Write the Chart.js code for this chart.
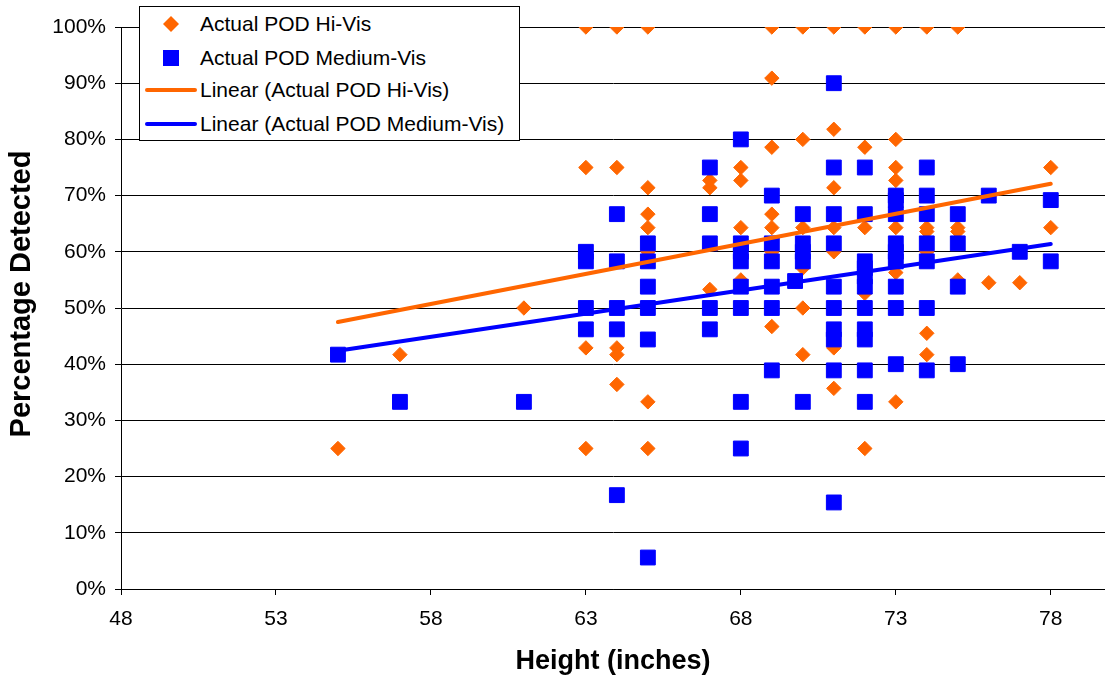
<!DOCTYPE html>
<html>
<head>
<meta charset="utf-8">
<title>POD vs Height</title>
<script src="https://cdn.jsdelivr.net/npm/chart.js@4.4.0/dist/chart.umd.min.js"></script>
<style>
  html, body { margin: 0; padding: 0; background: #fff; }
  #wrap { position: relative; width: 1105px; height: 681px; }
  #legend {
    position: absolute; left: 139px; top: 6px; width: 379px; height: 133px;
    border: 1px solid #000; background: #fff;
    font-family: Arial, "Liberation Sans", sans-serif; font-size: 21px; color: #000;
  }
  #legend .item { position: absolute; left: 0; width: 100%; height: 30px; line-height: 30px; white-space: nowrap; }
  #legend svg { position: absolute; left: 0; top: 0; }
  #legend .label { position: absolute; left: 60px; top: 0; }
</style>
</head>
<body>
<div id="wrap">
  <canvas id="chart" width="1105" height="681"></canvas>
  <div id="legend"></div>
</div>
<script>
// x = height (inches), y = percentage detected
const hiVisHeights = [55, 57, 61, 63, 63, 63, 63, 64, 64, 64, 64, 64, 65, 65, 65, 65, 65, 65, 65,
  67, 67, 67, 68, 68, 68, 68, 69, 69, 69, 69, 69, 69, 69, 70, 70, 70, 70, 70, 70,
  71, 71, 71, 71, 71, 71, 71, 72, 72, 72, 72, 72, 73, 73, 73, 73, 73, 73, 73,
  74, 74, 74, 74, 74, 74, 75, 75, 75, 75, 76, 77, 78, 78];
const hiVisPercents = [25, 41.7, 50, 100, 75, 42.9, 25, 100, 75, 42.9, 41.7, 36.4, 100, 71.4, 66.7, 64.3, 60, 33.3, 25,
  72.7, 71.4, 53.3, 75, 72.7, 64.3, 55, 100, 90.9, 78.6, 66.7, 64.3, 60, 46.7, 100, 80, 64.3, 57.1, 50, 41.7,
  100, 81.8, 71.4, 64.3, 60, 42.9, 35.7, 100, 78.6, 64.3, 52.6, 25, 100, 80, 75, 72.7, 64.3, 56.3, 33.3,
  100, 64.3, 63.6, 60, 45.5, 41.7, 100, 64.3, 63.6, 55, 54.5, 54.5, 75, 64.3];

const medVisHeights = [55, 57, 61, 63, 63, 63, 63, 64, 64, 64, 64, 64, 65, 65, 65, 65, 65, 65,
  67, 67, 67, 67, 67, 68, 68, 68, 68, 68, 68, 68, 68, 69, 69, 69, 69, 69, 69, 69.75,
  70, 70, 70, 70, 70, 71, 71, 71, 71, 71, 71, 71, 71, 71, 71,
  72, 72, 72, 72, 72, 72, 72, 72, 72, 72, 72, 73, 73, 73, 73, 73, 73, 73, 73, 73,
  74, 74, 74, 74, 74, 74, 74, 75, 75, 75, 75, 76, 77, 78, 78];
const medVisPercents = [41.7, 33.3, 33.3, 60, 58.3, 50, 46.2, 66.7, 58.3, 50, 46.2, 16.7, 61.5, 58.3, 53.8, 50, 44.4, 5.6,
  75, 66.7, 61.5, 50, 46.2, 80, 61.5, 60, 58.3, 53.8, 50, 33.3, 25, 70, 61.5, 58.3, 53.8, 50, 38.9, 54.8,
  66.7, 61.5, 60, 58.3, 33.3, 90, 75, 66.7, 61.5, 53.8, 50, 46.2, 44.4, 38.9, 15.4,
  75, 66.7, 58.3, 57.1, 55.6, 53.8, 50, 46.2, 44.4, 38.9, 33.3, 70, 69.2, 66.7, 61.5, 60, 58.3, 53.8, 50, 40,
  75, 70, 66.7, 61.5, 58.3, 50, 38.9, 66.7, 61.5, 53.8, 40, 70, 60, 69.2, 58.3];

// linear trend end points as drawn in the original
const trendHeights = [55, 78];
const hiTrendPercents = [47.5, 72.1];
const medTrendPercents = [42.4, 61.4];

const heightTicks = [48, 53, 58, 63, 68, 73, 78];

const ORANGE = "#FF6600";
const BLUE = "#0000FF";
const FONT = 'Arial, "Liberation Sans", sans-serif';

const toPoints = (xs, ys) => xs.map((x, i) => ({ x: x, y: ys[i] }));

Chart.defaults.font.family = FONT;
Chart.defaults.color = "#000";

// y title sits a little above the plot centre in the original, so draw it by hand
const yTitle = {
  id: "yTitle",
  afterDraw(chart) {
    const c = chart.ctx;
    const area = chart.chartArea;
    c.save();
    c.translate(22, (area.top + area.bottom) / 2 - 14);
    c.rotate(-Math.PI / 2);
    c.font = "bold 29px " + FONT;
    c.fillStyle = "#000";
    c.textAlign = "center";
    c.textBaseline = "middle";
    c.fillText("Percentage Detected", 0, 0);
    c.restore();
  },
};

const ctx = document.getElementById("chart").getContext("2d");

new Chart(ctx, {
  type: "scatter",
  data: {
    datasets: [
      {
        label: "Actual POD Hi-Vis",
        data: toPoints(hiVisHeights, hiVisPercents),
        pointStyle: "rectRot",
        pointRadius: 7.2,
        backgroundColor: ORANGE,
        borderColor: ORANGE,
        borderWidth: 1,
        order: 4,
      },
      {
        label: "Actual POD Medium-Vis",
        data: toPoints(medVisHeights, medVisPercents),
        pointStyle: "rect",
        pointRadius: 10.5,
        backgroundColor: BLUE,
        borderColor: BLUE,
        borderWidth: 1,
        order: 3,
      },
      {
        label: "Linear (Actual POD Hi-Vis)",
        data: toPoints(trendHeights, hiTrendPercents),
        showLine: true,
        pointRadius: 0,
        borderColor: ORANGE,
        borderWidth: 4,
        borderCapStyle: "round",
        order: 2,
      },
      {
        label: "Linear (Actual POD Medium-Vis)",
        data: toPoints(trendHeights, medTrendPercents),
        showLine: true,
        pointRadius: 0,
        borderColor: BLUE,
        borderWidth: 4,
        borderCapStyle: "round",
        order: 1,
      },
    ],
  },
  options: {
    responsive: false,
    animation: false,
    events: [],
    layout: { autoPadding: false, padding: { top: 27, right: 0, bottom: 0, left: 0 } },
    plugins: {
      legend: { display: false },
      tooltip: { enabled: false },
    },
    scales: {
      x: {
        type: "linear",
        min: 48,
        max: 79.75,
        afterBuildTicks: (scale) => {
          scale.ticks = heightTicks.map((v) => ({ value: v }));
        },
        afterFit: (scale) => {
          scale.height = 92;
          scale.paddingLeft = 0;
          scale.paddingRight = 0;
        },
        ticks: { font: { size: 21 }, color: "#000", padding: 12, maxRotation: 0, autoSkip: false },
        grid: { drawOnChartArea: false, color: "#000", tickLength: 6 },
        border: { color: "#000", width: 1 },
        title: {
          display: true,
          text: "Height (inches)",
          color: "#000",
          font: { size: 27, weight: "bold" },
          padding: { top: 0, bottom: 3 },
        },
      },
      y: {
        min: 0,
        max: 100,
        afterFit: (scale) => {
          scale.width = 121;
        },
        ticks: {
          stepSize: 10,
          font: { size: 21 },
          color: "#000",
          padding: 9,
          callback: (v) => v + "%",
        },
        grid: { color: "#000", lineWidth: 1, tickLength: 6 },
        border: { color: "#000", width: 1 },
        title: { display: false },
      },
    },
  },
  plugins: [yTitle],
});

// legend box drawn over the plot, like the original
const legendItems = [
  { text: "Actual POD Hi-Vis", kind: "diamond", color: ORANGE, top: 2 },
  { text: "Actual POD Medium-Vis", kind: "square", color: BLUE, top: 36 },
  { text: "Linear (Actual POD Hi-Vis)", kind: "line", color: ORANGE, top: 68 },
  { text: "Linear (Actual POD Medium-Vis)", kind: "line", color: BLUE, top: 102 },
];

const legendEl = document.getElementById("legend");
legendItems.forEach((item) => {
  const row = document.createElement("div");
  row.className = "item";
  row.style.top = item.top + "px";
  let mark = "";
  if (item.kind === "diamond") {
    mark = '<polygon points="31,7 39,15 31,23 23,15" fill="' + item.color + '"/>';
  } else if (item.kind === "square") {
    mark = '<rect x="23" y="7" width="16" height="16" fill="' + item.color + '"/>';
  } else {
    mark = '<line x1="7" y1="15" x2="55" y2="15" stroke="' + item.color + '" stroke-width="4" stroke-linecap="round"/>';
  }
  row.innerHTML = '<svg width="60" height="30">' + mark + '</svg><span class="label">' + item.text + "</span>";
  legendEl.appendChild(row);
});
</script>
</body>
</html>
